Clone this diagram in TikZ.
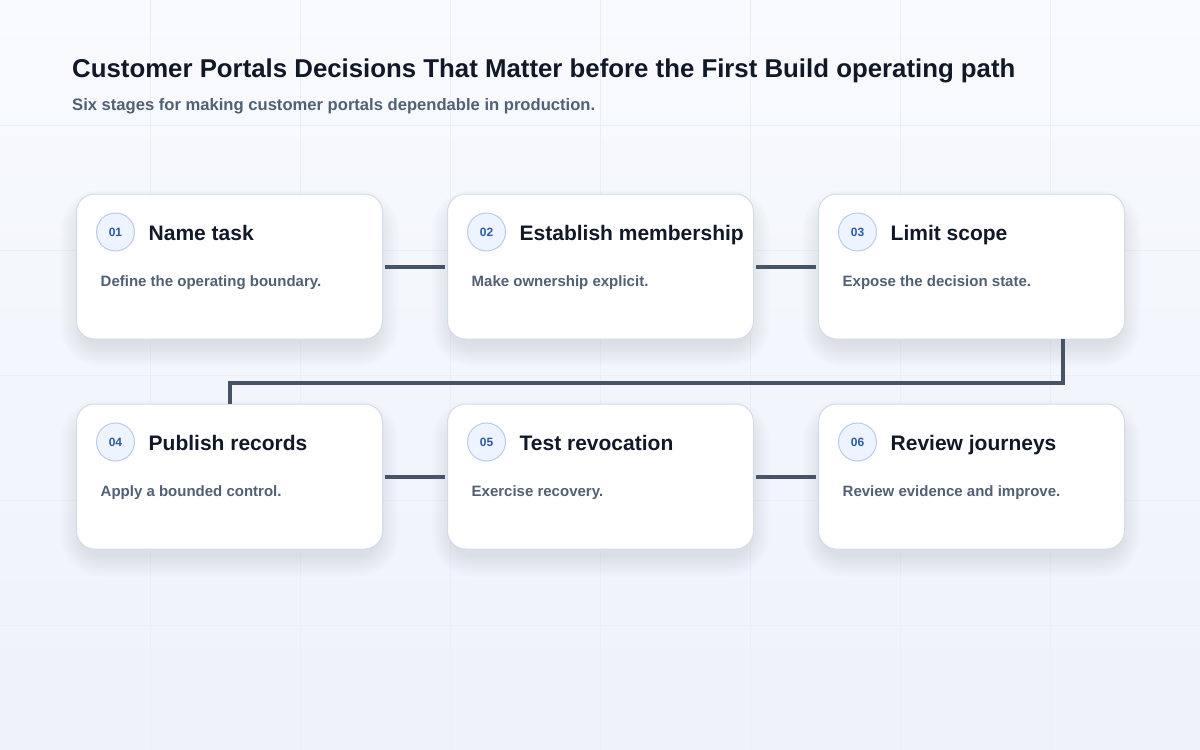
\documentclass[tikz,border=0pt]{standalone}
\usepackage{fontspec}
\setmainfont{Liberation Sans}
\usetikzlibrary{calc}
\usetikzlibrary{positioning}
\usetikzlibrary{scopes}

\pgfdeclarelayer{back}
\pgfdeclarelayer{shade}
\pgfsetlayers{back,shade,main}

\definecolor{pageTop}{HTML}{F8FAFD}
\definecolor{pageLow}{HTML}{EDF2FB}
\definecolor{gridLine}{HTML}{EAEFF6}
\definecolor{cardLine}{HTML}{D3DBE8}
\definecolor{cardShade}{HTML}{8C98B4}
\definecolor{badgeFill}{HTML}{EEF4FF}
\definecolor{badgeLine}{HTML}{BACBEA}
\definecolor{badgeText}{HTML}{2C5AA8}
\definecolor{inkDark}{HTML}{111827}
\definecolor{inkSoft}{HTML}{526074}
\definecolor{pathLine}{HTML}{475467}

\tikzset{
    card/.style={draw=cardLine, line width=1pt, fill=white, rounded corners=18pt,
        minimum width=306pt, minimum height=145pt, inner sep=0pt, outer sep=0pt},
    badge/.style={circle, draw=badgeLine, line width=1pt, fill=badgeFill, minimum size=38pt, inner sep=0pt,
        text=badgeText, font=\bfseries\fontsize{12}{12}\selectfont},
    stagename/.style={anchor=base west, inner sep=0pt, text=inkDark, font=\bfseries\fontsize{21}{21}\selectfont},
    stagenote/.style={anchor=base west, inner sep=0pt, text=inkSoft, font=\bfseries\fontsize{15}{15}\selectfont},
    pathlink/.style={draw=pathLine, line width=4pt}
}

\begin{document}
\begin{tikzpicture}[x=1pt, y=-1pt]
        \useasboundingbox (0,0) rectangle (1200,750);
        \begin{pgfonlayer}{back}
            \shade[top color=pageTop, bottom color=pageLow] (0,0) rectangle (1200,750);
            { [gridLine, line width=1pt]
                \foreach \gx in {150,300,...,1050}
                    \draw (\gx,0) -- (\gx,750);
                \foreach \gy in {125,250,...,625}
                    \draw (0,\gy) -- (1200,\gy);
            }
        \end{pgfonlayer}

        \node[anchor=base west, inner sep=0pt, text=inkDark, font=\bfseries\fontsize{25.8}{25.8}\selectfont] (title) at (72,77)
            {Customer Portals Decisions That Matter before the First Build operating path};
        \node[anchor=base west, inner sep=0pt, text=inkSoft, font=\bfseries\fontsize{16.6}{16.6}\selectfont] (subtitle) at (72,110)
            {Six stages for making customer portals dependable in production.};

        % top row
        \node[card] (c1) at (229.5,266.5) {};
        \node[card, right=65pt of c1] (c2) {};
        \node[card, right=65pt of c2] (c3) {};
        % bottom row
        \node[card, below=65pt of c1] (c4) {};
        \node[card, right=65pt of c4] (c5) {};
        \node[card, right=65pt of c5] (c6) {};

        \begin{pgfonlayer}{shade}
            \foreach \cid in {c1,c2,c3,c4,c5,c6}
                \foreach \grow in {2,4,...,22}
                    \fill[cardShade, opacity=0.02, rounded corners=18pt+\grow pt]
                        ($(\cid.north west)+(-\grow+6,-\grow+18)$) rectangle ($(\cid.south east)+(\grow-6,\grow+5)$);
        \end{pgfonlayer}

        \node[badge] (b1) at ($(c1.north west)+(39,38)$) {01};
        \node[badge] (b2) at ($(c2.north west)+(39,38)$) {02};
        \node[badge] (b3) at ($(c3.north west)+(39,38)$) {03};
        \node[badge] (b4) at ($(c4.north west)+(39,38)$) {04};
        \node[badge] (b5) at ($(c5.north west)+(39,38)$) {05};
        \node[badge] (b6) at ($(c6.north west)+(39,38)$) {06};

        \node[stagename] (n1) at ($(c1.north west)+(72,46)$) {Name task};
        \node[stagename] (n2) at ($(c2.north west)+(72,46)$) {Establish membership};
        \node[stagename] (n3) at ($(c3.north west)+(72,46)$) {Limit scope};
        \node[stagename] (n4) at ($(c4.north west)+(72,46)$) {Publish records};
        \node[stagename] (n5) at ($(c5.north west)+(72,46)$) {Test revocation};
        \node[stagename] (n6) at ($(c6.north west)+(72,46)$) {Review journeys};

        \node[stagenote] (d1) at ($(c1.north west)+(24,92)$) {Define the operating boundary.};
        \node[stagenote] (d2) at ($(c2.north west)+(24,92)$) {Make ownership explicit.};
        \node[stagenote] (d3) at ($(c3.north west)+(24,92)$) {Expose the decision state.};
        \node[stagenote] (d4) at ($(c4.north west)+(24,92)$) {Apply a bounded control.};
        \node[stagenote] (d5) at ($(c5.north west)+(24,92)$) {Exercise recovery.};
        \node[stagenote] (d6) at ($(c6.north west)+(24,92)$) {Review evidence and improve.};

        { [pathlink]
            { [shorten <=2pt, shorten >=3pt]
                \draw (c1.east) -- (c2.west);
                \draw (c2.east) -- (c3.west);
                \draw (c4.east) -- (c5.west);
                \draw (c5.east) -- (c6.west);
            }
            \coordinate (turn) at ($(c3.south west)!0.8!(c3.south east)$);
            \draw (turn) -- ++(0,44) -| (c4.north);
        }
    \end{tikzpicture}
\end{document}
